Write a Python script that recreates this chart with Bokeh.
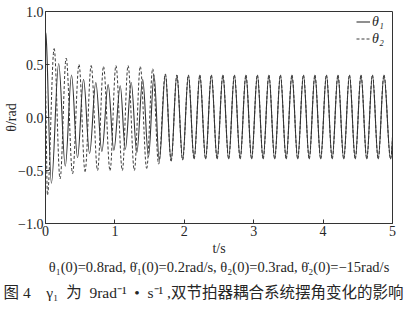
import math
from bokeh.plotting import figure
from bokeh.models import Range1d, FixedTicker, Legend, LegendItem, ColumnDataSource, Title
from bokeh.embed import file_html
from bokeh.resources import INLINE

# ---------------- data ----------------
# successive extrema (time in s, angle in rad) of theta1 before synchronisation
theta1_t = [0.000, 0.085, 0.190, 0.285, 0.375, 0.462, 0.548, 0.635, 0.725, 0.812,
            0.903, 0.985, 1.077, 1.150, 1.235, 1.316, 1.400, 1.484, 1.564, 1.640]
theta1_v = [0.80, -0.62, 0.51, -0.46, 0.40, -0.38, 0.36, -0.34, 0.33, -0.32,
            0.31, -0.31, 0.30, -0.30, 0.33, -0.33, 0.36, -0.37, 0.40, -0.41]
# successive extrema of theta2 before synchronisation
theta2_t = [0.000, 0.028, 0.125, 0.210, 0.298, 0.390, 0.483, 0.570, 0.658, 0.750,
            0.836, 0.930, 1.015, 1.107, 1.190, 1.280, 1.366, 1.458, 1.545, 1.630]
theta2_v = [0.30, -0.73, 0.65, -0.58, 0.56, -0.53, 0.50, -0.51, 0.49, -0.50,
            0.48, -0.50, 0.49, -0.50, 0.49, -0.50, 0.48, -0.48, 0.46, -0.44]
# common extrema once both pendulums move in phase
sync_t = [1.727, 1.810, 1.893, 1.976, 2.059, 2.141, 2.224, 2.307, 2.390, 2.473,
          2.556, 2.639, 2.722, 2.805, 2.888, 2.970, 3.053, 3.136, 3.219, 3.302,
          3.385, 3.468, 3.551, 3.634, 3.717, 3.800, 3.882, 3.965, 4.048, 4.131,
          4.214, 4.297, 4.380, 4.463, 4.546, 4.629, 4.711, 4.794, 4.877, 4.972,
          5.055]
sync_v = [0.41, -0.41, 0.40, -0.40, 0.40, -0.39, 0.40, -0.39, 0.40, -0.39,
          0.40, -0.39, 0.40, -0.39, 0.40, -0.39, 0.40, -0.39, 0.40, -0.39,
          0.40, -0.39, 0.40, -0.39, 0.40, -0.39, 0.40, -0.39, 0.40, -0.39,
          0.40, -0.39, 0.40, -0.39, 0.40, -0.39, 0.40, -0.39, 0.40, -0.39,
          0.40]
# initial angular velocities (rad/s) from the caption
theta1_rate0 = 0.2
theta2_rate0 = -15.0

x_ticks = [0, 1, 2, 3, 4, 5]
y_ticks = [-1.0, -0.5, 0.0, 0.5, 1.0]
y_tick_labels = ["\u22121.0", "\u22120.5", "0.0", "0.5", "1.0"]
series_labels = ["\u03b8\u2081", "\u03b8\u2082"]
x_title = "t/s"
y_title = "\u03b8/rad"
cond_text = ("\u03b8\u2081(0)=0.8rad, \u03b8\u0307\u2081(0)=0.2rad/s, "
             "\u03b8\u2082(0)=0.3rad, \u03b8\u0307\u2082(0)=\u221215rad/s")
caption_text = ("\u56fe 4\u2003\u03b3\u2081\u2002\u4e3a\u2002"
                "9rad\u207b\u00b9\u2002\u2022\u2002s\u207b\u00b9 ,"
                "\u53cc\u8282\u62cd\u5668\u8026\u5408\u7cfb\u7edf\u6446\u89d2\u53d8\u5316\u7684\u5f71\u54cd")


def half_cycles(ts, vs, rate0):
    """Bezier pieces between successive extrema (horizontal tangents at extrema)."""
    k = 1.0 - 2.0 / math.pi
    d = dict(x0=[], y0=[], x1=[], y1=[], cx0=[], cy0=[], cx1=[], cy1=[])
    for i in range(len(ts) - 1):
        x0, y0, x1, y1 = ts[i], vs[i], ts[i + 1], vs[i + 1]
        h = k * (x1 - x0)
        s0 = rate0 if i == 0 else 0.0
        d["x0"].append(x0); d["y0"].append(y0)
        d["x1"].append(x1); d["y1"].append(y1)
        d["cx0"].append(x0 + h); d["cy0"].append(y0 + s0 * h)
        d["cx1"].append(x1 - h); d["cy1"].append(y1)
    return ColumnDataSource(d)


SERIF = "Liberation Serif"
INK = "#262626"

p = figure(width=413, height=316, x_range=Range1d(0, 5), y_range=Range1d(-1, 1),
           output_backend="svg", toolbar_location=None,
           min_border_left=45, min_border_right=21, min_border_top=11, min_border_bottom=93)
p.background_fill_color = "white"
p.border_fill_color = "white"
p.outline_line_color = "#333333"
p.outline_line_width = 1
p.xgrid.visible = False
p.ygrid.visible = False

src2 = half_cycles(theta2_t + sync_t, theta2_v + sync_v, theta2_rate0)
src1 = half_cycles(theta1_t + sync_t, theta1_v + sync_v, theta1_rate0)
bz2 = p.bezier(x0="x0", y0="y0", x1="x1", y1="y1", cx0="cx0", cy0="cy0", cx1="cx1", cy1="cy1",
               source=src2, line_color="#3c3c3c", line_width=1.0, line_dash="3 2")
bz1 = p.bezier(x0="x0", y0="y0", x1="x1", y1="y1", cx0="cx0", cy0="cy0", cx1="cx1", cy1="cy1",
               source=src1, line_color="#333333", line_width=1.1)

for ax in (p.xaxis[0], p.yaxis[0]):
    ax.axis_line_color = "#333333"
    ax.major_tick_line_color = "#333333"
    ax.major_tick_in = 4
    ax.major_tick_out = 0
    ax.minor_tick_line_color = None
    ax.major_label_text_font = SERIF
    ax.major_label_text_font_size = "14px"
    ax.major_label_text_color = INK
    ax.axis_label_text_font = SERIF
    ax.axis_label_text_font_size = "14px"
    ax.axis_label_text_font_style = "normal"
    ax.axis_label_text_color = INK
p.xaxis.ticker = FixedTicker(ticks=x_ticks)
p.xaxis.major_label_standoff = 2
p.xaxis.axis_label = x_title
p.xaxis.axis_label_standoff = 2
p.yaxis.ticker = FixedTicker(ticks=y_ticks)
p.yaxis.major_label_overrides = {t: s for t, s in zip(y_ticks, y_tick_labels)}
p.yaxis.major_label_standoff = 2
p.yaxis.axis_label = y_title
p.yaxis.axis_label_standoff = -4

# legend (upper right, inside the frame)
legend = Legend(items=[LegendItem(label=series_labels[0], renderers=[bz1]),
                       LegendItem(label=series_labels[1], renderers=[bz2])],
                location=(311, 176), padding=0, spacing=0, margin=0,
                glyph_width=14, glyph_height=17, label_height=17, label_standoff=2,
                label_text_font=SERIF, label_text_font_size="14px",
                label_text_font_style="italic", label_text_color=INK,
                background_fill_alpha=0, border_line_color=None)
p.add_layout(legend)

# initial conditions and figure caption below the axis title
p.add_layout(Title(text=cond_text, align="center", text_font=SERIF, text_font_size="14.5px",
                   text_font_style="normal", text_color=INK, standoff=-3), "below")
p.add_layout(Title(text=caption_text, align="left", offset=-42,
                   text_font=SERIF + ", Noto Sans CJK SC",
                   text_font_size="15.5px", text_font_style="normal", text_color=INK,
                   standoff=16), "below")

open("out.html", "w").write(file_html(p, INLINE))
